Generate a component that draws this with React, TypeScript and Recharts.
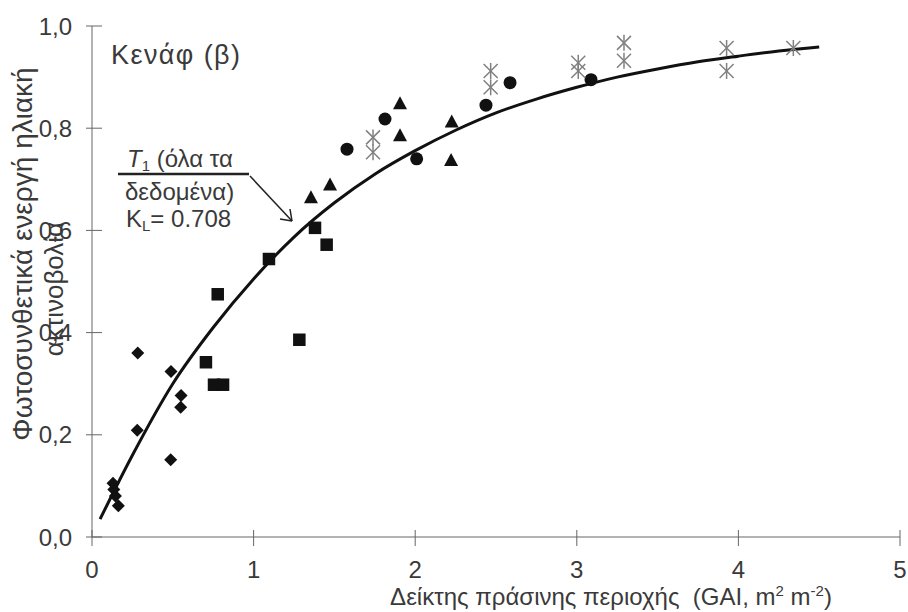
import React from 'react';
import { ComposedChart, Line, Scatter, XAxis, YAxis } from 'recharts';

// ---- data ----
const xTicks = [0, 1, 2, 3, 4, 5];
const yTicks = [0, 0.2, 0.4, 0.6, 0.8, 1.0];

// fitted curve T1 (all data), K_L = 0.708
const curveX = [0.05, 0.25, 0.5, 0.75, 1.0, 1.25, 1.5, 1.75, 2.0, 2.25, 2.5, 2.75, 3.0, 3.25, 3.5, 3.75, 4.0, 4.25, 4.5];
const curveY = [0.035, 0.16, 0.3, 0.41, 0.505, 0.587, 0.654, 0.71, 0.756, 0.796, 0.83, 0.857, 0.88, 0.9, 0.916, 0.93, 0.941, 0.951, 0.959];

const diamondPts: [number, number][] = [
  [0.283, 0.36], [0.489, 0.324], [0.551, 0.277], [0.549, 0.254], [0.28, 0.209],
  [0.487, 0.151], [0.13, 0.105], [0.135, 0.093], [0.145, 0.08], [0.163, 0.061],
];
const squarePts: [number, number][] = [
  [0.705, 0.342], [0.755, 0.298], [0.811, 0.298], [0.778, 0.475], [1.095, 0.544],
  [1.38, 0.605], [1.452, 0.572], [1.283, 0.386],
];
const trianglePts: [number, number][] = [
  [1.355, 0.665], [1.473, 0.69], [1.906, 0.849], [1.906, 0.786], [2.226, 0.813], [2.222, 0.738],
];
const circlePts: [number, number][] = [
  [1.578, 0.759], [1.813, 0.818], [2.009, 0.74], [2.438, 0.845], [2.587, 0.889], [3.088, 0.895],
];
const starPts: [number, number][] = [
  [1.739, 0.782], [1.739, 0.753], [2.467, 0.912], [2.467, 0.88], [3.009, 0.928], [3.009, 0.912],
  [3.292, 0.967], [3.292, 0.932], [3.927, 0.957], [3.927, 0.912], [4.34, 0.957],
];

const toRows = (pts: [number, number][]) => pts.map(([x, y]) => ({ x, y }));
const curveRows = curveX.map((x, i) => ({ x, y: curveY[i] }));

const FONT = 'Liberation Sans, Arial, sans-serif';
const TXT = '#3a3a3a';
const AXIS = '#666';

const YTick = (props: any) => {
  const { x, y, payload } = props;
  return (
    <g>
      <line x1={x - 6} x2={x + 10} y1={y} y2={y} stroke={AXIS} strokeWidth={1} />
      <text x={x - 20} y={y} dy={8.5} textAnchor="end" fontSize={24} fill={TXT} fontFamily={FONT}>
        {Number(payload.value).toFixed(1).replace('.', ',')}
      </text>
    </g>
  );
};

const XTick = (props: any) => {
  const { x, y, payload } = props;
  return (
    <g>
      <line x1={x} x2={x} y1={y - 7} y2={y + 9} stroke={AXIS} strokeWidth={1} />
      <text x={x} y={y + 41} textAnchor="middle" fontSize={24} fill={TXT} fontFamily={FONT}>
        {payload.value}
      </text>
    </g>
  );
};

const Diamond = (p: any) => {
  const { cx, cy } = p;
  const r = 6.5;
  return <path d={`M${cx},${cy - r}L${cx + r},${cy}L${cx},${cy + r}L${cx - r},${cy}Z`} fill="#111" />;
};
const Square = (p: any) => {
  const { cx, cy } = p;
  const s = 12.5;
  return <rect x={cx - s / 2} y={cy - s / 2} width={s} height={s} fill="#111" />;
};
const Tri = (p: any) => {
  const { cx, cy } = p;
  return <path d={`M${cx},${cy - 7}L${cx + 7},${cy + 6}L${cx - 7},${cy + 6}Z`} fill="#111" />;
};
const Circ = (p: any) => {
  const { cx, cy } = p;
  return <circle cx={cx} cy={cy} r={6.5} fill="#111" />;
};
const Star = (p: any) => {
  const { cx, cy } = p;
  const w = 7, h = 7;
  return (
    <g stroke="#808080" strokeWidth={1.5} fill="none">
      <line x1={cx - w} y1={cy - h} x2={cx + w} y2={cy + h} />
      <line x1={cx - w} y1={cy + h} x2={cx + w} y2={cy - h} />
      <line x1={cx} y1={cy - h - 1} x2={cx} y2={cy + h + 1} />
    </g>
  );
};

export default function App() {
  return (
    <div style={{ position: 'absolute', left: 0, top: 0, width: 908, height: 612, background: '#fff' }}>
      <ComposedChart width={908} height={612} margin={{ top: 26, right: 8, left: 0, bottom: 0 }}>
        <XAxis
          type="number"
          dataKey="x"
          domain={[0, 5]}
          ticks={xTicks}
          height={75}
          tickSize={0}
          tickMargin={0}
          tickLine={false}
          axisLine={{ stroke: AXIS, strokeWidth: 1 }}
          tick={<XTick />}
          allowDataOverflow
        />
        <YAxis
          type="number"
          dataKey="y"
          domain={[0, 1]}
          ticks={yTicks}
          width={92}
          tickSize={0}
          tickMargin={0}
          tickLine={false}
          axisLine={{ stroke: AXIS, strokeWidth: 1 }}
          tick={<YTick />}
          allowDataOverflow
        />
        <Line data={curveRows} dataKey="y" type="monotone" stroke="#111" strokeWidth={3} dot={false} isAnimationActive={false} />
        <Scatter data={toRows(diamondPts)} dataKey="y" shape={<Diamond />} isAnimationActive={false} />
        <Scatter data={toRows(squarePts)} dataKey="y" shape={<Square />} isAnimationActive={false} />
        <Scatter data={toRows(trianglePts)} dataKey="y" shape={<Tri />} isAnimationActive={false} />
        <Scatter data={toRows(circlePts)} dataKey="y" shape={<Circ />} isAnimationActive={false} />
        <Scatter data={toRows(starPts)} dataKey="y" shape={<Star />} isAnimationActive={false} />
      </ComposedChart>
      <svg width={908} height={612} style={{ position: 'absolute', left: 0, top: 0, pointerEvents: 'none' }} fontFamily={FONT}>
        <text x={111} y={64} fontSize={27} fill={TXT} textLength={129} lengthAdjust="spacing">Κενάφ (β)</text>
        <text x={127} y={167} fontSize={24} fill={TXT}>
          <tspan fontStyle="italic">T</tspan>
          <tspan fontSize={15} dy={4}>1</tspan>
          <tspan dy={-4}> (όλα τα</tspan>
        </text>
        <line x1={118} y1={174} x2={249} y2={174} stroke="#222" strokeWidth={2.5} />
        <text x={125} y={200} fontSize={24} fill={TXT}>δεδομένα)</text>
        <text x={126} y={227} fontSize={24} fill={TXT}>
          K<tspan fontSize={15} dy={4}>L</tspan><tspan dy={-4}>= 0.708</tspan>
        </text>
        <line x1={250} y1={176} x2={292} y2={221} stroke="#222" strokeWidth={1.5} />
        <line x1={292} y1={221} x2={280} y2={219} stroke="#222" strokeWidth={1.5} />
        <line x1={292} y1={221} x2={290} y2={209} stroke="#222" strokeWidth={1.5} />
        <text transform="translate(32,254) rotate(-90)" textAnchor="middle" fontSize={28} fill={TXT}>
          Φωτοσυνθετικά ενεργή ηλιακή
        </text>
        <text transform="translate(63,289) rotate(-90)" textAnchor="middle" fontSize={26} fill={TXT}>
          ακτινοβολία
        </text>
        <text x={611} y={605} textAnchor="middle" fontSize={24} fill={TXT} style={{ whiteSpace: 'pre' }}>
          {'Δείκτης πράσινης περιοχής  (GAI, m'}<tspan fontSize={15} dy={-9}>2</tspan>
          <tspan dy={9}>{' m'}</tspan><tspan fontSize={15} dy={-9}>-2</tspan><tspan dy={9}>)</tspan>
        </text>
      </svg>
    </div>
  );
}
